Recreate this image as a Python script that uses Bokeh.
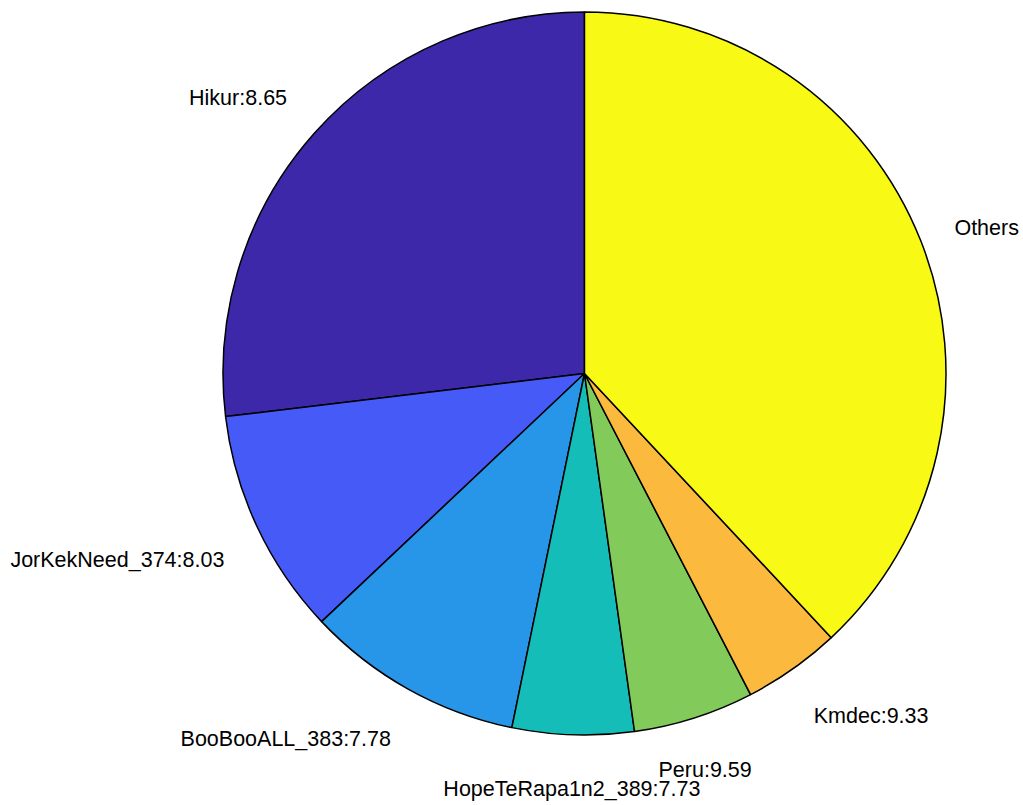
import numpy as np
from bokeh.plotting import figure
from bokeh.models import ColumnDataSource, Range1d
from bokeh.core.properties import value
from bokeh.embed import file_html
from bokeh.resources import INLINE

# Data (slice shares), in drawing order starting at 12 o'clock, counter-clockwise
names = ["Hikur", "JorKekNeed_374", "BooBooALL_383", "HopeTeRapa1n2_389", "Peru", "Kmdec", "Others"]
shares = [26.9, 10.14, 9.74, 5.43, 5.39, 4.36, 38.04]
label_values = ["8.65", "8.03", "7.78", "7.73", "9.59", "9.33", None]
colors = ["#3C28A8", "#465AF8", "#2896E8", "#14BDB8", "#82CA5A", "#FBB93E", "#F8F914"]

W, H = 1023, 805
R_PX = 361.5
CX, CY = 584.0, 373.0

vals = np.array(shares, dtype=float)
frac = vals / vals.sum()
cum = np.concatenate([[0.0], np.cumsum(frac)])
start = np.pi / 2 + 2 * np.pi * cum[:-1]
end = np.pi / 2 + 2 * np.pi * cum[1:]
mid = (start + end) / 2

labels = [n if v is None else f"{n}:{v}" for n, v in zip(names, label_values)]
lx = 1.1 * np.cos(mid)
ly = 1.1 * np.sin(mid)
aligns, bases, yoffs = [], [], []
for c, s in zip(np.cos(mid), np.sin(mid)):
    if abs(c) < 0.4:
        aligns.append("center")
    elif c > 0:
        aligns.append("left")
    else:
        aligns.append("right")
    if s < 0:
        bases.append("top")
        yoffs.append(6)
    elif s > 0.5:
        bases.append("bottom")
        yoffs.append(0)
    else:
        bases.append("middle")
        yoffs.append(0)

src = ColumnDataSource(dict(start=start, end=end, color=colors))
lsrc = ColumnDataSource(dict(x=lx, y=ly, text=labels, align=aligns, base=bases, yoff=yoffs))

p = figure(width=W, height=H,
           x_range=Range1d(-CX / R_PX, (W - CX) / R_PX),
           y_range=Range1d(-(H - CY) / R_PX, CY / R_PX),
           output_backend="svg", toolbar_location=None, min_border=0)
p.axis.visible = False
p.grid.visible = False
p.outline_line_color = None
p.background_fill_color = "white"

p.wedge(x=0, y=0, radius=1, start_angle="start", end_angle="end", direction="anticlock",
        fill_color="color", line_color="black", line_width=1.5, source=src)

p.text(x="x", y="y", text="text", text_align="align", text_baseline="base", y_offset="yoff",
       text_font=value("Liberation Sans"), text_font_size="21.5px", text_color="black", source=lsrc)

open("out.html", "w").write(file_html(p, INLINE))
